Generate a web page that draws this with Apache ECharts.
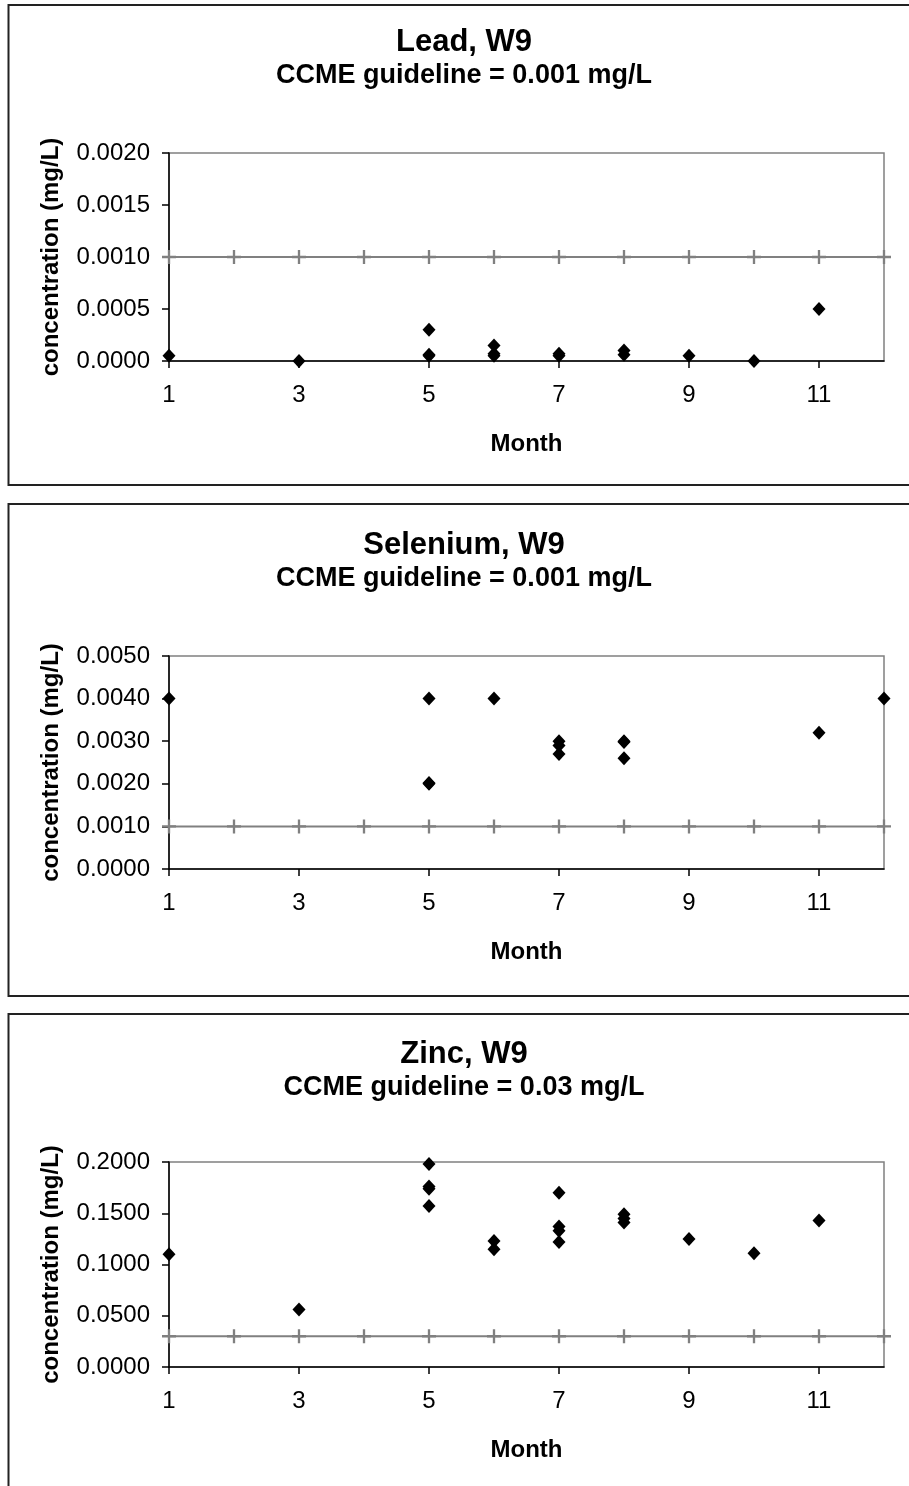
<!DOCTYPE html>
<html><head><meta charset="utf-8">
<script src="https://cdn.jsdelivr.net/npm/echarts@6/dist/echarts.min.js"></script>
<style>html,body{margin:0;padding:0;background:#fff}#c{width:909px;height:1486px}</style>
</head><body><div id="c"></div>
<script>
// ---- data ----
const monthTickLabels = [1, 3, 5, 7, 9, 11];
const guideMonths = [1, 2, 3, 4, 5, 6, 7, 8, 9, 10, 11, 12];

const leadMonth = [1, 3, 5, 5, 5, 6, 6, 6, 7, 7, 8, 8, 9, 10, 11];
const leadConc  = [0.00005, 0, 0.0003, 0.00005, 0.00006, 0.00015, 0.00005, 0.00007, 0.00005, 0.00007, 0.0001, 0.00006, 0.00005, 0, 0.0005];
const leadGuide = 0.001;
const leadTicks = [0, 0.0005, 0.001, 0.0015, 0.002];

const seMonth = [1, 5, 5, 5, 6, 7, 7, 7, 8, 8, 8, 11, 12];
const seConc  = [0.004, 0.004, 0.002, 0.00202, 0.004, 0.003, 0.0029, 0.0027, 0.003, 0.00298, 0.0026, 0.0032, 0.004];
const seGuide = 0.001;
const seTicks = [0, 0.001, 0.002, 0.003, 0.004, 0.005];

const znMonth = [1, 3, 5, 5, 5, 5, 6, 6, 7, 7, 7, 7, 8, 8, 8, 9, 10, 11];
const znConc  = [0.11, 0.056, 0.198, 0.176, 0.174, 0.157, 0.123, 0.115, 0.17, 0.137, 0.133, 0.122, 0.149, 0.145, 0.141, 0.125, 0.111, 0.143];
const znGuide = 0.03;
const znTicks = [0, 0.05, 0.1, 0.15, 0.2];

const titles = ['Lead, W9', 'Selenium, W9', 'Zinc, W9'];
const subtitles = ['CCME guideline = 0.001 mg/L', 'CCME guideline = 0.001 mg/L', 'CCME guideline = 0.03 mg/L'];
const yName = 'concentration (mg/L)';
const xName = 'Month';

// ---- layout ----
const FONT = '"Liberation Sans", Arial, sans-serif';
const panels = [
  { month: leadMonth, conc: leadConc, guide: leadGuide, ticks: leadTicks, boxTop: 5, boxH: 480, gridTop: 153, gridH: 208, titleY: 44, subY: 76 },
  { month: seMonth, conc: seConc, guide: seGuide, ticks: seTicks, boxTop: 504, boxH: 492, gridTop: 656, gridH: 213, titleY: 547, subY: 579 },
  { month: znMonth, conc: znConc, guide: znGuide, ticks: znTicks, boxTop: 1014, boxH: 520, gridTop: 1162, gridH: 205, titleY: 1056, subY: 1088 }
];
const plusPath = 'path://M5,0 H7 V5 H12 V7 H7 V12 H5 V7 H0 V5 H5 Z';

const option = { animation: false, backgroundColor: '#fff', title: [], grid: [], xAxis: [], yAxis: [], series: [], graphic: [] };

panels.forEach((p, i) => {
  option.graphic.push({ type: 'rect', silent: true, z: -10,
    shape: { x: 8.5, y: p.boxTop, width: 920, height: p.boxH },
    style: { fill: '#fff', stroke: '#222', lineWidth: 2 } });
  option.title.push({ text: titles[i], left: 464, top: p.titleY - 17, textAlign: 'center', padding: 0,
    textStyle: { fontFamily: FONT, fontWeight: 'bold', fontSize: 31, color: '#000' } });
  option.title.push({ text: subtitles[i], left: 464, top: p.subY - 14, textAlign: 'center', padding: 0,
    textStyle: { fontFamily: FONT, fontWeight: 'bold', fontSize: 27, color: '#000' } });
  option.grid.push({ left: 169, right: 25, top: p.gridTop, height: p.gridH, show: true,
    borderColor: '#808080', borderWidth: 1.5, backgroundColor: '#fff' });
  option.xAxis.push({ type: 'value', gridIndex: i, min: 1, max: 12,
    name: xName, nameLocation: 'middle', nameGap: 71,
    nameTextStyle: { fontFamily: FONT, fontWeight: 'bold', fontSize: 24, color: '#000' },
    axisLine: { show: true, onZero: false, lineStyle: { color: '#000', width: 1.5 } },
    axisTick: { show: true, length: 7, customValues: monthTickLabels, lineStyle: { color: '#000', width: 1.5 } },
    axisLabel: { customValues: monthTickLabels, margin: 22, fontFamily: FONT, fontSize: 24, color: '#000' },
    splitLine: { show: false } });
  option.yAxis.push({ type: 'value', gridIndex: i, min: p.ticks[0], max: p.ticks[p.ticks.length - 1],
    interval: p.ticks[1] - p.ticks[0],
    name: yName, nameLocation: 'middle', nameGap: 106, nameRotate: 90,
    nameTextStyle: { fontFamily: FONT, fontWeight: 'bold', fontSize: 24, color: '#000' },
    axisLine: { show: true, lineStyle: { color: '#000', width: 1.5 } },
    axisTick: { show: true, length: 7, lineStyle: { color: '#000', width: 1.5 } },
    axisLabel: { margin: 19, fontFamily: FONT, fontSize: 24, color: '#000', formatter: v => v.toFixed(4) },
    splitLine: { show: false } });
  option.series.push({ type: 'line', xAxisIndex: i, yAxisIndex: i, clip: false, z: 2,
    data: guideMonths.map(m => [m, p.guide]),
    symbol: plusPath, symbolSize: 14, showSymbol: true, symbolKeepAspect: true,
    itemStyle: { color: '#808080', opacity: 1 }, lineStyle: { color: '#808080', width: 2 } });
  option.series.push({ type: 'scatter', xAxisIndex: i, yAxisIndex: i, clip: false, z: 3,
    data: p.month.map((m, k) => [m, p.conc[k]]),
    symbol: 'diamond', symbolSize: [13, 14], itemStyle: { color: '#000', opacity: 1 } });
});

const chart = echarts.init(document.getElementById('c'), null, { renderer: 'canvas' });
chart.setOption(option);
</script></body></html>
